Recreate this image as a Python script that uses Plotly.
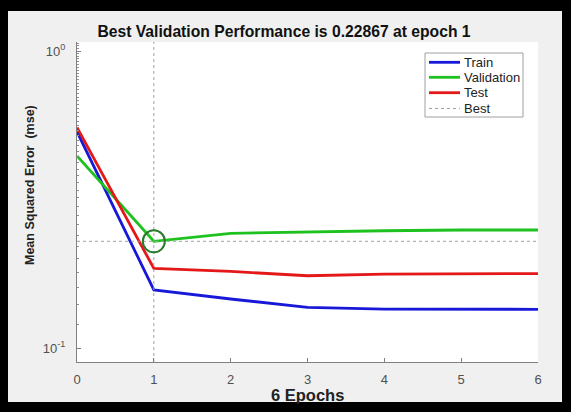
import plotly.graph_objects as go

epochs = [0, 1, 2, 3, 4, 5, 6]
train = [0.535, 0.1568, 0.1462, 0.1371, 0.1352, 0.1350, 0.1350]
validation = [0.443, 0.22867, 0.2433, 0.2464, 0.2482, 0.2496, 0.2496]
test = [0.553, 0.1854, 0.1810, 0.1751, 0.1774, 0.1778, 0.1781]
best_epoch = 1
best_value = 0.22867
x_ticks = [0, 1, 2, 3, 4, 5, 6]
y_ticks = [0.1, 1.0]
y_tick_text = ["10<sup>-1</sup>", "10<sup>0</sup>"]
legend_names = ["Train", "Validation", "Test", "Best"]

W, H = 571, 412
L, R, T, B = 77, 538, 42, 362  # plot area in pixels
yrange = [-1 - (B - 348) / 297, (51 - T) / 297]
xrange = [0, 6]

font = "Arial, Liberation Sans, sans-serif"
colors = {"Train": "#1818d8", "Validation": "#1ec21e", "Test": "#e41818", "Best": "#a0a0a0"}
LW = 2.8


def px_x(p):
    return (p - L) / (R - L)


def px_y(p):
    return (B - p) / (B - T)


fig = go.Figure()

fig.add_trace(go.Scatter(x=epochs, y=train, mode="lines", name="Train",
                         line=dict(color=colors["Train"], width=LW)))
fig.add_trace(go.Scatter(x=epochs, y=validation, mode="lines", name="Validation",
                         line=dict(color=colors["Validation"], width=LW)))
fig.add_trace(go.Scatter(x=epochs, y=test, mode="lines", name="Test",
                         line=dict(color=colors["Test"], width=LW)))
fig.add_trace(go.Scatter(x=xrange, y=[best_value, best_value], mode="lines", name="Best",
                         line=dict(color=colors["Best"], width=1, dash="dot")))
fig.add_trace(go.Scatter(x=[best_epoch, best_epoch], y=[10 ** yrange[0], 10 ** yrange[1]],
                         mode="lines", name="Best",
                         line=dict(color=colors["Best"], width=1, dash="dot")))
fig.add_trace(go.Scatter(x=[best_epoch], y=[best_value], mode="markers", name="Best point",
                         marker=dict(symbol="circle-open", size=22, color="#2a7a2a",
                                     line=dict(width=2))))

shapes = [
    # gray figure panel inside the black frame
    dict(type="rect", xref="paper", yref="paper", layer="below",
         x0=px_x(8), x1=px_x(562), y0=px_y(402), y1=px_y(11),
         fillcolor="#f0f0f0", line=dict(width=0)),
    # white axes area
    dict(type="rect", xref="paper", yref="paper", layer="below",
         x0=0, x1=1, y0=0, y1=1, fillcolor="white", line=dict(width=0)),
]

# legend box (drawn by hand to match the compact MATLAB legend)
shapes.append(dict(type="rect", xref="paper", yref="paper", layer="above",
                   x0=px_x(425), x1=px_x(523), y0=px_y(117), y1=px_y(53),
                   fillcolor="white", line=dict(color="#a0a0a0", width=1)))
annotations = []
legend_rows = [62.3, 77.3, 92.7, 108.5]
for name, py in zip(legend_names, legend_rows):
    dash = "dot" if name == "Best" else "solid"
    width = 1 if name == "Best" else LW
    shapes.append(dict(type="line", xref="paper", yref="paper", layer="above",
                       x0=px_x(429), x1=px_x(460), y0=px_y(py), y1=px_y(py),
                       line=dict(color=colors[name], width=width, dash=dash)))
    annotations.append(dict(text=name, x=px_x(462), y=px_y(py), xref="paper", yref="paper",
                            showarrow=False, xanchor="left", yanchor="middle",
                            font=dict(family=font, size=13, color="#222222")))

annotations += [
    dict(text="<b>6 Epochs</b>", x=px_x(307), y=px_y(395), xref="paper", yref="paper",
         showarrow=False, xanchor="center", yanchor="middle",
         font=dict(family=font, size=16.5, color="#222222")),
    dict(text="<b>Mean Squared Error  (mse)</b>", x=px_x(30), y=px_y(185),
         xref="paper", yref="paper", showarrow=False, textangle=-90,
         xanchor="center", yanchor="middle",
         font=dict(family=font, size=12.5, color="#222222")),
]

fig.update_layout(
    width=W, height=H,
    margin=dict(l=L, r=W - R, t=T, b=H - B, pad=0),
    paper_bgcolor="black",
    plot_bgcolor="rgba(0,0,0,0)",
    font=dict(family=font, color="#4a4a4a", size=13),
    shapes=shapes,
    annotations=annotations,
    showlegend=False,
    title=dict(text="<b>Best Validation Performance is 0.22867 at epoch 1</b>",
               x=284 / W, xanchor="center", xref="container",
               y=1 - 32 / H, yanchor="middle", yref="container",
               font=dict(family=font, size=15.7, color="#111111")),
    xaxis=dict(range=xrange, tickvals=x_ticks, ticks="inside", ticklen=4,
               tickcolor="#808080", showline=True, linecolor="#808080", linewidth=1,
               showgrid=False, zeroline=False, ticklabelstandoff=5,
               tickfont=dict(size=13, color="#505050")),
    yaxis=dict(type="log", range=yrange, tickvals=y_ticks, ticktext=y_tick_text,
               ticks="inside", ticklen=4, tickcolor="#808080",
               showline=True, linecolor="#808080", linewidth=1,
               showgrid=False, zeroline=False, ticklabelstandoff=8,
               tickfont=dict(size=13, color="#505050"),
               minor=dict(ticks="inside", ticklen=2, tickcolor="#909090", showgrid=False)),
)

fig.write_html("out.html", config={"displayModeBar": False},
               post_script="document.body.style.margin='0px';")
